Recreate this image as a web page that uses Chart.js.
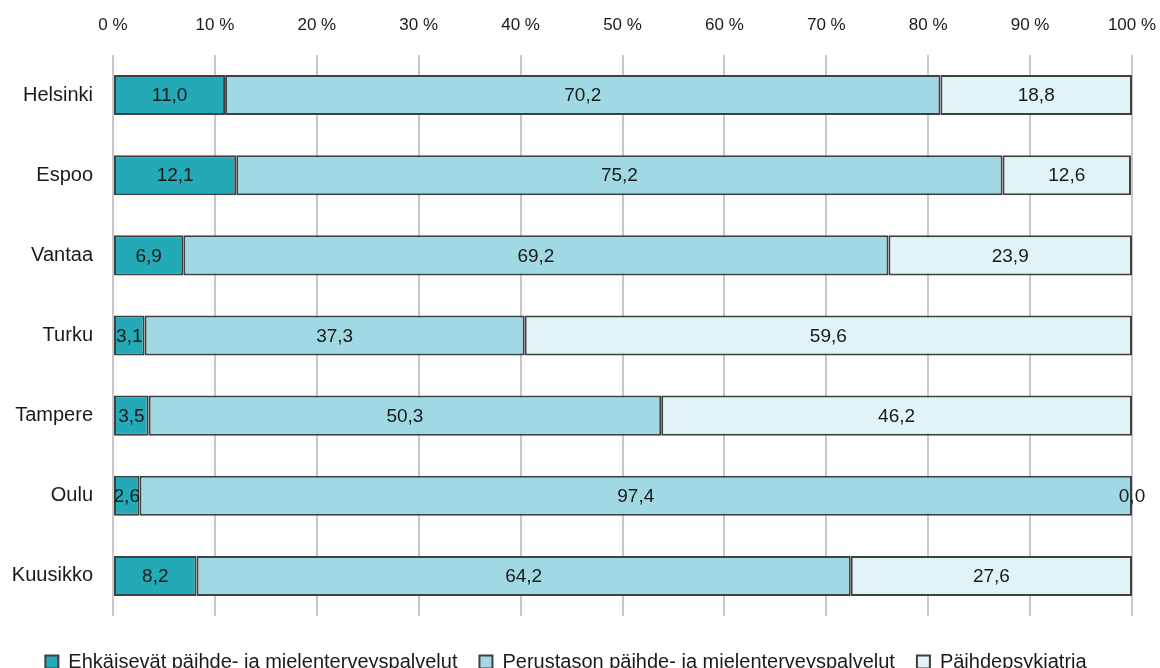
<!DOCTYPE html>
<html>
<head>
<meta charset="utf-8">
<script src="https://cdn.jsdelivr.net/npm/chart.js@4"></script>
<style>
  html,body{margin:0;padding:0;background:#fff;}
  #wrap{width:1160px;height:668px;}
</style>
</head>
<body>
<div id="wrap"><canvas id="canvas" width="1160" height="668"></canvas></div>
<script>
// categories and series (percent shares)
var cities = ['Helsinki','Espoo','Vantaa','Turku','Tampere','Oulu','Kuusikko'];
var ehkaisevat = [11.0, 12.1, 6.9, 3.1, 3.5, 2.6, 8.2];
var perustason = [70.2, 75.2, 69.2, 37.3, 50.3, 97.4, 64.2];
var psykiatria = [18.8, 12.6, 23.9, 59.6, 46.2, 0.0, 27.6];
var seriesNames = ['Ehkäisevät päihde- ja mielenterveyspalvelut','Perustason päihde- ja mielenterveyspalvelut','Päihdepsykiatria'];
var seriesColors = ['#24A9B6','#A0D8E3','#E0F3F7'];

var FONT = 'Liberation Sans';

// writes the value in the middle of every bar segment
var barLabels = {
	id:'barLabels',
	afterDatasetsDraw:function(chart){
		var ctx=chart.ctx;
		ctx.save();
		ctx.font='19px "'+FONT+'"';
		ctx.fillStyle='#1a1a1a';
		ctx.textAlign='center';
		ctx.textBaseline='middle';
		chart.data.datasets.forEach(function(ds,i){
			var meta=chart.getDatasetMeta(i);
			meta.data.forEach(function(bar,j){
				var txt=ds.data[j].toFixed(1).replace('.',',');
				var x=(bar.x+bar.base)/2;
				ctx.fillText(txt,x,bar.y+1);
			});
		});
		ctx.restore();
	}
};

var datasets=[];
var all=[ehkaisevat,perustason,psykiatria];
for (var i=0;i<all.length;i++){
	datasets.push({
		label:seriesNames[i],
		data:all[i],
		backgroundColor:seriesColors[i],
		borderColor:'#404040',
		borderWidth:2,
		borderSkipped:false,
		barPercentage:0.5,
		categoryPercentage:1.0
	});
}

Chart.defaults.font.family=FONT;
Chart.defaults.color='#1a1a1a';

var ctx=document.getElementById('canvas').getContext('2d');
window.myBar=new Chart(ctx,{
	type:'bar',
	data:{labels:cities,datasets:datasets},
	plugins:[barLabels],
	options:{
		indexAxis:'y',
		responsive:false,
		animation:false,
		layout:{padding:{top:0,right:28,left:0,bottom:-14}},
		scales:{
			x:{
				stacked:true,
				position:'top',
				min:0,max:100,
				ticks:{stepSize:10,padding:19,font:{size:17},
					callback:function(v){return v+' %';}},
				grid:{color:'#c8c8c8',lineWidth:2,drawTicks:false},
				border:{display:false},
				afterFit:function(s){s.height=55;s.paddingLeft=0;s.paddingRight=0;}
			},
			// empty spacer between the bars and the legend
			gap:{
				type:'linear',
				axis:'x',
				position:'bottom',
				min:0,max:1,
				ticks:{display:false},
				grid:{display:false},
				border:{display:false},
				afterFit:function(s){s.height=14;}
			},
			y:{
				stacked:true,
				ticks:{padding:12,font:{size:20}},
				grid:{display:false},
				border:{display:false},
				afterFit:function(s){s.width=113;}
			}
		},
		plugins:{
			tooltip:{enabled:false},
			legend:{
				position:'bottom',
				labels:{boxWidth:13,boxHeight:13,font:{size:20},padding:22,color:'#1a1a1a'}
			}
		}
	}
});
</script>
</body>
</html>
